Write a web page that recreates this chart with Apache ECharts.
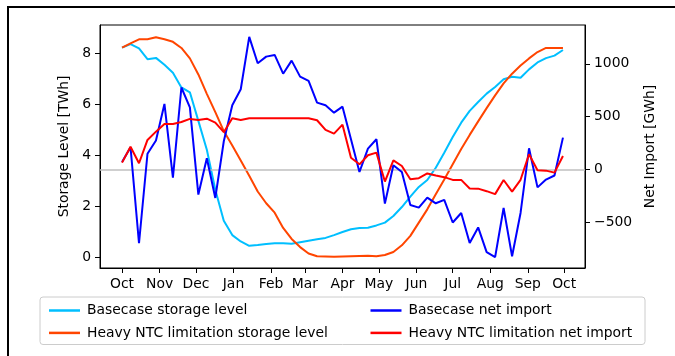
<!DOCTYPE html>
<html>
<head>
<meta charset="utf-8">
<script src="https://cdn.jsdelivr.net/npm/echarts@6/dist/echarts.min.js"></script>
<style>
html,body{margin:0;padding:0;background:#fff;}
#chart{width:675px;height:356px;}
</style>
</head>
<body>
<div id="chart"></div>
<script>
const dates = [
 '2022-10-01','2022-10-08','2022-10-15','2022-10-22','2022-10-29',
 '2022-11-05','2022-11-12','2022-11-19','2022-11-26',
 '2022-12-03','2022-12-10','2022-12-17','2022-12-24','2022-12-31',
 '2023-01-07','2023-01-14','2023-01-21','2023-01-28',
 '2023-02-04','2023-02-11','2023-02-18','2023-02-25',
 '2023-03-04','2023-03-11','2023-03-18','2023-03-25',
 '2023-04-01','2023-04-08','2023-04-15','2023-04-22','2023-04-29',
 '2023-05-06','2023-05-13','2023-05-20','2023-05-27',
 '2023-06-03','2023-06-10','2023-06-17','2023-06-24',
 '2023-07-01','2023-07-08','2023-07-15','2023-07-22','2023-07-29',
 '2023-08-05','2023-08-12','2023-08-19','2023-08-26',
 '2023-09-02','2023-09-09','2023-09-16','2023-09-23','2023-09-30'
];
const baseStorage = [8.22, 8.36, 8.19, 7.77, 7.82, 7.55, 7.24, 6.66, 6.47, 5.35, 4.22, 2.65, 1.43, 0.87, 0.62, 0.45, 0.48, 0.52, 0.55, 0.55, 0.53, 0.59, 0.65, 0.71, 0.76, 0.87, 0.99, 1.1, 1.15, 1.16, 1.25, 1.36, 1.62, 1.97, 2.38, 2.76, 3.03, 3.51, 4.1, 4.72, 5.28, 5.74, 6.09, 6.42, 6.68, 6.98, 7.08, 7.04, 7.37, 7.64, 7.81, 7.91, 8.13];
const heavyStorage = [8.22, 8.39, 8.55, 8.55, 8.63, 8.55, 8.45, 8.21, 7.8, 7.17, 6.41, 5.69, 4.95, 4.38, 3.8, 3.2, 2.58, 2.12, 1.75, 1.15, 0.72, 0.4, 0.15, 0.04, 0.03, 0.02, 0.03, 0.04, 0.05, 0.06, 0.04, 0.09, 0.21, 0.47, 0.84, 1.36, 1.88, 2.47, 3.05, 3.65, 4.25, 4.8, 5.33, 5.85, 6.35, 6.82, 7.2, 7.52, 7.8, 8.05, 8.21, 8.21, 8.21];
const baseImport = [70, 210, -702, 147, 273, 620, -80, 776, 587, -240, 104, -272, 266, 608, 759, 1256, 1006, 1069, 1085, 907, 1031, 879, 838, 632, 607, 537, 594, 285, -26, 196, 285, -326, 38, -26, -339, -364, -269, -323, -291, -505, -415, -700, -552, -786, -834, -368, -826, -415, 199, -172, -98, -59, 300];
const heavyImport = [63, 214, 57, 278, 357, 430, 430, 448, 478, 468, 480, 442, 352, 484, 468, 484, 484, 484, 484, 484, 484, 484, 484, 465, 373, 338, 423, 110, 47, 133, 158, -117, 85, 31, -95, -85, -40, -60, -75, -101, -101, -182, -184, -208, -236, -102, -212, -100, 142, -9, -13, -32, 126];
const monthTicks = ['2022-10-01','2022-11-01','2022-12-01','2023-01-01','2023-02-01','2023-03-01','2023-04-01','2023-05-01','2023-06-01','2023-07-01','2023-08-01','2023-09-01','2023-10-01'];
const monthLabels = ['Oct','Nov','Dec','Jan','Feb','Mar','Apr','May','Jun','Jul','Aug','Sep','Oct'];
const leftTicks = [0, 2, 4, 6, 8];
const rightTicks = [-500, 0, 500, 1000];
const seriesNames = ['Basecase storage level','Heavy NTC limitation storage level','Basecase net import','Heavy NTC limitation net import'];
const seriesColors = ['#00bfff','#ff4500','#0000ff','#ff0000'];

const DAY = 86400000;
const t0 = Date.parse(dates[0]);
const dayOf = d => Math.round((Date.parse(d) - t0) / DAY);
const xs = dates.map(dayOf);
const spanDays = xs[xs.length-1] - xs[0];
const tickDays = monthTicks.map(dayOf);
const pairs = arr => arr.map((v,i) => [xs[i], v]);

const FONT = 'DejaVu Sans';
const FS = 13.9;
const chart = echarts.init(document.getElementById('chart'), null, {renderer:'canvas'});
const mkLine = (idx, data, yAxisIndex) => ({
  name: seriesNames[idx], type: 'line', data: pairs(data), yAxisIndex,
  showSymbol: false, symbol: 'none', smooth: false,
  lineStyle: {color: seriesColors[idx], width: 2}, itemStyle: {color: seriesColors[idx]},
  z: 3 + idx, animation: false
});
chart.setOption({
  animation: false,
  textStyle: {fontFamily: FONT},
  grid: {left: 100, top: 25, right: 90, bottom: 88, show: true, borderColor: '#000', borderWidth: 1, backgroundColor: 'transparent'},
  xAxis: {
    type: 'value', min: xs[0] - spanDays*0.05, max: xs[xs.length-1] + spanDays*0.05,
    splitLine: {show: false},
    axisLine: {onZero: false, lineStyle: {color: '#000', width: 1}},
    axisTick: {show: true, length: 5, lineStyle: {color: '#000'}, customValues: tickDays},
    axisLabel: {color: '#000', fontSize: FS, fontFamily: FONT, margin: 9,
      customValues: tickDays,
      formatter: v => monthLabels[tickDays.indexOf(Math.round(v))] || ''}
  },
  yAxis: [
    {type: 'value', min: -0.42, max: 9.11, position: 'left',
     name: 'Storage Level [TWh]', nameLocation: 'middle', nameRotate: 90, nameGap: 22,
     nameTextStyle: {color: '#000', fontSize: FS, fontFamily: FONT},
     splitLine: {show: false},
     axisLine: {show: true, onZero: false, lineStyle: {color: '#000'}},
     axisTick: {show: true, length: 5, lineStyle: {color: '#000'}, customValues: leftTicks},
     axisLabel: {color: '#000', fontSize: FS, fontFamily: FONT, margin: 9, customValues: leftTicks}},
    {type: 'value', min: -937, max: 1369, position: 'right',
     name: 'Net Import [GWh]', nameLocation: 'middle', nameRotate: 90, nameGap: 51,
     nameTextStyle: {color: '#000', fontSize: FS, fontFamily: FONT},
     splitLine: {show: false},
     axisLine: {show: true, onZero: false, lineStyle: {color: '#000'}},
     axisTick: {show: true, length: 5, lineStyle: {color: '#000'}, customValues: rightTicks},
     axisLabel: {color: '#000', fontSize: FS, fontFamily: FONT, margin: 9, customValues: rightTicks,
       formatter: v => String(v).replace('-', '\u2212')}}
  ],
  legend: [
    {orient: 'vertical', left: 44, top: 297.5, itemWidth: 31, itemHeight: 2.5, itemGap: 6.4, icon: 'rect',
     data: [seriesNames[0], seriesNames[1]],
     textStyle: {color: '#000', fontSize: FS, fontFamily: FONT, lineHeight: 16, padding: [0,0,0,2]}},
    {orient: 'vertical', left: 365.5, top: 297.5, itemWidth: 31, itemHeight: 2.5, itemGap: 6.4, icon: 'rect',
     data: [seriesNames[2], seriesNames[3]],
     textStyle: {color: '#000', fontSize: FS, fontFamily: FONT, lineHeight: 16, padding: [0,0,0,2]}}
  ],
  graphic: [
    {type: 'rect', shape: {x: 8, y: 7, width: 720, height: 420}, style: {fill: 'none', stroke: '#000', lineWidth: 2}, z: 0, silent: true},
    {type: 'rect', shape: {x: 40, y: 297, width: 605, height: 47.5, r: 3}, style: {fill: 'rgba(255,255,255,0.8)', stroke: '#cccccc', lineWidth: 1}, z: 1, silent: true}
  ],
  series: [
    {name: 'zero', type: 'line', yAxisIndex: 1, data: [], z: 1,
     markLine: {silent: true, symbol: ['none','none'], label: {show: false},
       lineStyle: {color: '#bfbfbf', width: 1.5, type: 'solid'}, data: [{yAxis: 0}], animation: false}},
    mkLine(0, baseStorage, 0),
    mkLine(1, heavyStorage, 0),
    mkLine(2, baseImport, 1),
    mkLine(3, heavyImport, 1)
  ]
});
</script>
</body>
</html>
